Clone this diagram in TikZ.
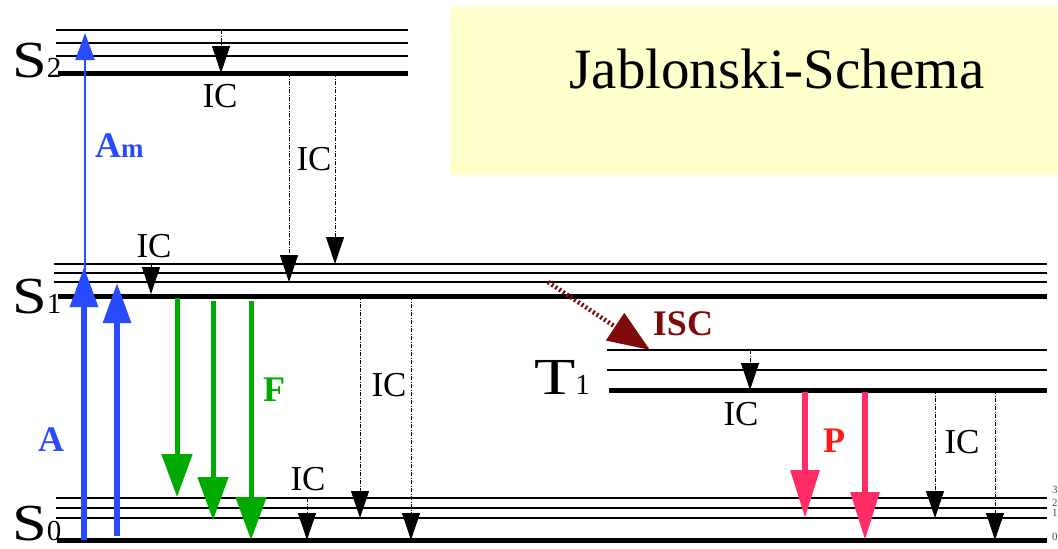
\documentclass[tikz,border=0pt]{standalone}
\usepackage{fontspec}
\setmainfont{Liberation Serif}
\usetikzlibrary{arrows.meta}
\definecolor{absblue}{RGB}{40,75,255}
\definecolor{flgreen}{RGB}{0,170,0}
\definecolor{phpink}{RGB}{255,45,100}
\definecolor{plabel}{RGB}{255,25,25}
\definecolor{iscred}{RGB}{128,10,10}
\definecolor{titlebg}{RGB}{255,255,204}
\newcommand{\subsz}{\fontsize{29}{29}\selectfont}

\begin{document}
\begin{tikzpicture}[
    x=1pt, y=-1pt,
    vib/.style={line width=1.7pt},
    ground/.style={line width=5pt},
    statelbl/.style={font=\fontsize{52}{52}\selectfont, anchor=base west, inner sep=0pt},
    iclbl/.style={font=\fontsize{35}{35}\selectfont, anchor=base, inner sep=0pt},
    boldlbl/.style={font=\fontsize{36}{36}\selectfont\bfseries, anchor=base, inner sep=0pt},
    vnum/.style={font=\fontsize{11}{11}\selectfont, anchor=west, inner sep=0pt, text=black!70},
    icarr/.style={line width=0.9pt, dash pattern=on 4pt off 1.5pt on 1pt off 1.5pt,
                  -{Triangle[width=18pt,length=27pt]}},
    absarr/.style={absblue, line width=6pt, -{Triangle[width=27pt,length=40pt]}},
    fluarr/.style={flgreen, line width=5pt, -{Triangle[width=30pt,length=43pt]}},
    phoarr/.style={phpink, line width=6pt, -{Triangle[width=28pt,length=48pt]}},
    iscarr/.style={iscred, line width=4.5pt, dash pattern=on 2pt off 2.5pt,
                   -{Triangle[width=32pt,length=42pt]}}
  ]
  \useasboundingbox (0,0) rectangle (1058,549);

  % Title
  \node[fill=titlebg, minimum width=608pt, minimum height=168pt,
        anchor=north west, inner sep=0pt] (box) at (450,7) {};
  \node[font=\fontsize{57}{57}\selectfont, anchor=base] (title) at (777,88) {Jablonski-Schema};

  % S2 levels
  \draw[vib] (56,30) -- (408,30);
  \draw[vib] (56,43) -- (408,43);
  \draw[vib] (56,56) -- (408,56);
  \draw[ground] (58,73) -- (408,73);
  \node[statelbl] (s2) at (12,77) {\scalebox{1.2}[1]{S}{\subsz 2}};

  % S1 levels
  \draw[vib] (54,264) -- (1047,264);
  \draw[vib] (54,273) -- (1047,273);
  \draw[vib] (54,282) -- (1047,282);
  \draw[ground] (58,296) -- (1047,296);
  \node[statelbl] (s1) at (12,313) {\scalebox{1.2}[1]{S}{\subsz 1}};

  % T1 levels
  \draw[vib] (607,350) -- (1047,350);
  \draw[vib] (607,370) -- (1047,370);
  \draw[ground] (609,390) -- (1047,390);
  \node[statelbl] (t1) at (534,394) {\scalebox{1.3}[1]{T}{\subsz 1}};

  % S0 levels
  \draw[vib] (56,498) -- (1047,498);
  \draw[vib] (56,508) -- (1047,508);
  \draw[vib] (56,518) -- (1047,518);
  \draw[ground] (57,540) -- (1047,540);
  \node[statelbl] (s0) at (12,540) {\scalebox{1.2}[1]{S}{\subsz 0}};
  \node[vnum] (v3) at (1052,490) {3};
  \node[vnum] (v2) at (1052,503) {2};
  \node[vnum] (v1) at (1052,513) {1};
  \node[vnum] (v0) at (1052,537) {0};

  % Absorption
  \coordinate (a1s) at (84,540);  \coordinate (a1e) at (84,267);
  \coordinate (a2s) at (117,536); \coordinate (a2e) at (117,283);
  \coordinate (ams) at (85,540);  \coordinate (ame) at (85,33);
  \draw[absarr] (a1s) -- (a1e);
  \draw[absarr] (a2s) -- (a2e);
  \draw[absblue, line width=2pt, -{Triangle[width=19pt,length=27pt]}] (ams) -- (ame);
  \node[boldlbl, text=absblue, anchor=base west] (lam) at (95,157)
       {A{\fontsize{27}{27}\selectfont m}};
  \node[boldlbl, text=absblue] (la) at (51,451) {A};

  % Fluorescence
  \coordinate (f1s) at (177,298); \coordinate (f1e) at (177,497);
  \coordinate (f2s) at (213,301); \coordinate (f2e) at (213,520);
  \coordinate (f3s) at (251,301); \coordinate (f3e) at (251,540);
  \draw[fluarr] (f1s) -- (f1e);
  \draw[fluarr] (f2s) -- (f2e);
  \draw[fluarr] (f3s) -- (f3e);
  \node[boldlbl, text=flgreen] (lf) at (274,401) {F};

  % Internal conversion
  \coordinate (ic1s) at (221,30);  \coordinate (ic1e) at (221,73);
  \coordinate (ic2s) at (289,73);  \coordinate (ic2e) at (289,282);
  \coordinate (ic3s) at (335,73);  \coordinate (ic3e) at (335,264);
  \coordinate (ic4s) at (151,264); \coordinate (ic4e) at (151,294);
  \coordinate (ic5s) at (360,296); \coordinate (ic5e) at (360,518);
  \coordinate (ic6s) at (411,296); \coordinate (ic6e) at (411,540);
  \coordinate (ic7s) at (307,498); \coordinate (ic7e) at (307,540);
  \coordinate (ic8s) at (750,350); \coordinate (ic8e) at (750,390);
  \coordinate (ic9s) at (935,390); \coordinate (ic9e) at (935,518);
  \coordinate (ic10s) at (995,390); \coordinate (ic10e) at (995,540);
  \draw[icarr] (ic1s) -- (ic1e);
  \draw[icarr] (ic2s) -- (ic2e);
  \draw[icarr] (ic3s) -- (ic3e);
  \draw[icarr] (ic4s) -- (ic4e);
  \draw[icarr] (ic5s) -- (ic5e);
  \draw[icarr] (ic6s) -- (ic6e);
  \draw[icarr] (ic7s) -- (ic7e);
  \draw[icarr] (ic8s) -- (ic8e);
  \draw[icarr] (ic9s) -- (ic9e);
  \draw[icarr] (ic10s) -- (ic10e);
  \node[iclbl] (lic1) at (220,107) {IC};
  \node[iclbl] (lic2) at (314,170) {IC};
  \node[iclbl] (lic3) at (154,257) {IC};
  \node[iclbl] (lic4) at (389,396) {IC};
  \node[iclbl] (lic5) at (308,490) {IC};
  \node[iclbl] (lic6) at (741,425) {IC};
  \node[iclbl] (lic7) at (962,453) {IC};

  % Intersystem crossing
  \coordinate (iscs) at (548,282); \coordinate (isce) at (650,350);
  \draw[iscarr] (iscs) -- (isce);
  \node[boldlbl, text=iscred] (lisc) at (683,335) {ISC};

  % Phosphorescence
  \coordinate (p1s) at (805,392); \coordinate (p1e) at (805,518);
  \coordinate (p2s) at (865,392); \coordinate (p2e) at (865,540);
  \draw[phoarr] (p1s) -- (p1e);
  \draw[phoarr] (p2s) -- (p2e);
  \node[boldlbl, text=plabel] (lp) at (834,452) {P};
\end{tikzpicture}
\end{document}
